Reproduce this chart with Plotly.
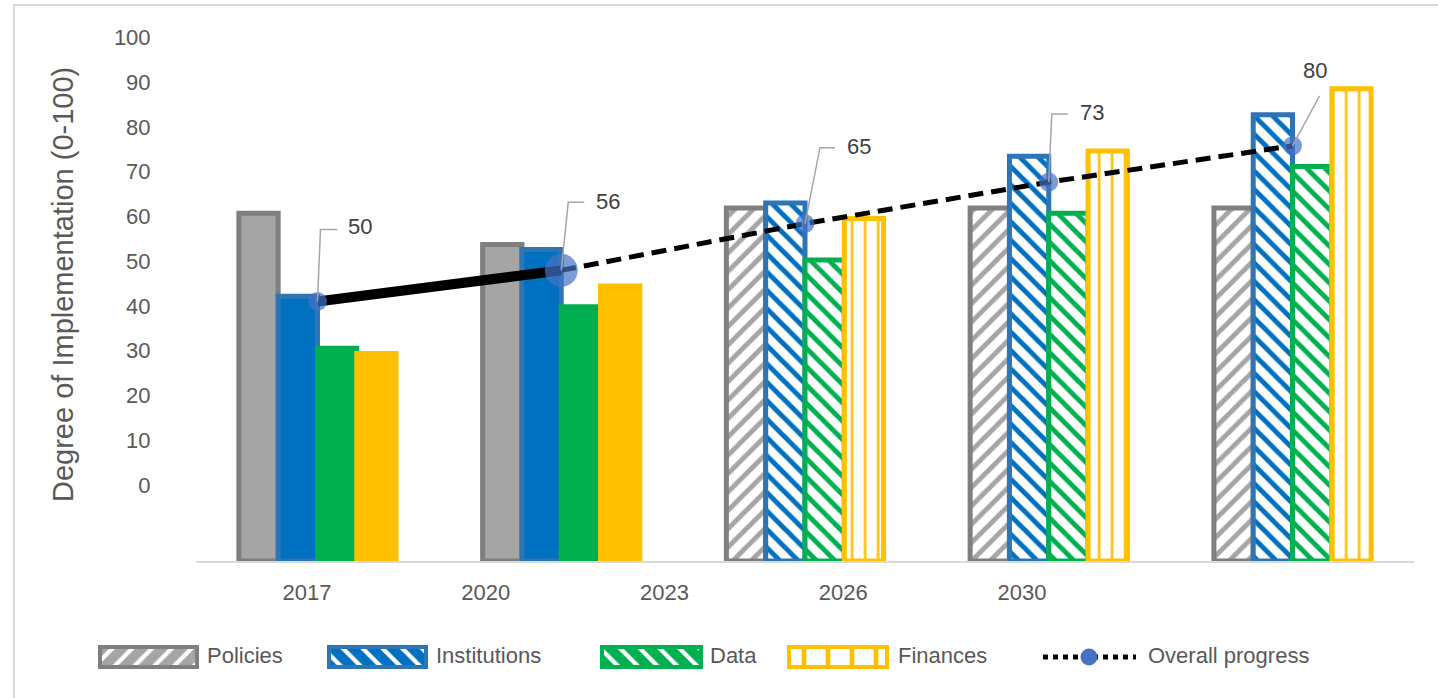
import plotly.graph_objects as go

# ---- data -------------------------------------------------------------
years = ["2017", "2020", "2023", "2026", "2030"]
policies = [67, 61, 68, 68, 68]
institutions = [51, 60, 69, 78, 86]
data_scores = [41, 49, 58, 67, 76]
finances = [40, 53, 66, 79, 91]
overall = [50, 56, 65, 73, 80]
scale_labels = [0, 10, 20, 30, 40, 50, 60, 70, 80, 90, 100]

# ---- page geometry helpers (pixel -> paper fraction) -----------------
W, H = 1438, 698


def fx(px):
    return px / W


def fy(py):
    return 1 - py / H


FONT = "Liberation Sans, Arial, sans-serif"
TEXT = "#595959"
LABEL = "#404040"
MARKER_BLUE = "#4472C4"

# first two years are solid, later years are hatched
projected = [False, False, True, True, True]

series = [
    dict(name="Policies", values=policies, fill="#A5A5A5", border="#7F7F7F", shape="/"),
    dict(name="Institutions", values=institutions, fill="#0070C0", border="#2E75B6", shape="\\"),
    dict(name="Data", values=data_scores, fill="#00B050", border="#00B050", shape="\\"),
    dict(name="Finances", values=finances, fill="#FFC000", border="#FFC000", shape="|"),
]

fig = go.Figure()

for s in series:
    shapes = [s["shape"] if p else "" for p in projected]
    fig.add_trace(go.Bar(
        x=years, y=s["values"], name=s["name"],
        marker=dict(
            color=s["fill"],
            line=dict(color=s["border"], width=5),
            pattern=dict(shape=shapes, fillmode="replace", bgcolor="white",
                         fgcolor=s["fill"], size=13,
                         solidity=0.2 if s["shape"] == "|" else 0.38),
        ),
        showlegend=False,
        xaxis="x", yaxis="y",
    ))

# overall progress: thick solid for the measured years, dashed afterwards
fig.add_trace(go.Scatter(
    x=years[:2], y=overall[:2], mode="lines",
    line=dict(color="black", width=10), showlegend=False, hoverinfo="skip",
))
fig.add_trace(go.Scatter(
    x=years[1:], y=overall[1:], mode="lines",
    line=dict(color="black", width=5, dash="15px,8px"), showlegend=False, hoverinfo="skip",
))
fig.add_trace(go.Scatter(
    x=years, y=overall, mode="markers", name="Overall progress",
    marker=dict(color=MARKER_BLUE, size=[19, 33, 19, 19, 19], line=dict(width=0)),
    showlegend=False,
))

# carrier trace for the overlaid label axes (years along the bottom, 0-100 scale)
fig.add_trace(go.Scatter(
    x=[0], y=[0], mode="markers", marker=dict(opacity=0),
    xaxis="x2", yaxis="y2", showlegend=False, hoverinfo="skip",
))

# value labels with elbow leader lines (pixel offsets from each point)
leaders = [
    dict(path=[(3, 72), (20, 72)], text=(43, 75)),
    dict(path=[(7, 68), (23, 68)], text=(47, 69)),
    dict(path=[(15, 76), (30, 76)], text=(54, 77)),
    dict(path=[(3, 68), (19, 68)], text=(43, 70)),
    dict(path=[(27, 50)], text=(22, 75)),
]

shapes = []
annotations = []
for i, (v, ld) in enumerate(zip(overall, leaders)):
    pts = "M 0,0 " + " ".join(f"L {dx},{dy}" for dx, dy in ld["path"])
    shapes.append(dict(
        type="path", xref="x", yref="y", xsizemode="pixel", ysizemode="pixel",
        xanchor=i, yanchor=v, path=pts,
        line=dict(color="#A6A6A6", width=1.5), layer="above",
    ))
    annotations.append(dict(
        x=i, y=v, xref="x", yref="y", text=str(v), showarrow=False,
        xshift=ld["text"][0], yshift=ld["text"][1],
        font=dict(family=FONT, size=22, color=LABEL),
        xanchor="center", yanchor="middle",
    ))

# y-axis title
annotations.append(dict(
    x=fx(63), y=fy(285), xref="paper", yref="paper",
    text="Degree of Implementation (0-100)", textangle=-90, showarrow=False,
    font=dict(family=FONT, size=29, color=TEXT), xanchor="center", yanchor="middle",
))

# ---- legend row ------------------------------------------------------
legend_left = [100, 329, 602, 789]
legend_width = [97, 97, 99, 98]
legend_text_x = [205, 434, 708, 896]
legend_swatch = [
    dict(bg="#A5A5A5", fg="white", shape="/", size=14, solidity=0.3),
    dict(bg="#0070C0", fg="white", shape="\\", size=14, solidity=0.3),
    dict(bg="#00B050", fg="white", shape="\\", size=14, solidity=0.3),
    dict(bg="white", fg="#FFC000", shape="|", size=24, solidity=0.2),
]

for s, left, wd, sw in zip(series, legend_left, legend_width, legend_swatch):
    fig.add_trace(go.Bar(
        y=[0], x=[wd], base=[left], orientation="h", width=0.66, offsetgroup="key",
        marker=dict(
            color=sw["bg"],
            line=dict(color=s["border"], width=4),
            pattern=dict(shape=sw["shape"], fillmode="overlay", fgcolor=sw["fg"],
                         fgopacity=1, size=sw["size"], solidity=sw["solidity"]),
        ),
        xaxis="x3", yaxis="y3", showlegend=False, hoverinfo="skip",
    ))
fig.add_trace(go.Scatter(
    x=[1043, 1136], y=[0, 0], mode="lines",
    line=dict(color="black", width=5, dash="5px,5px"),
    xaxis="x3", yaxis="y3", showlegend=False, hoverinfo="skip",
))
fig.add_trace(go.Scatter(
    x=[1089], y=[0], mode="markers", marker=dict(color=MARKER_BLUE, size=17),
    xaxis="x3", yaxis="y3", showlegend=False, hoverinfo="skip",
))
for s, tx in zip(series, legend_text_x):
    annotations.append(dict(
        x=fx(tx), y=fy(655), xref="paper", yref="paper", text=s["name"],
        showarrow=False, xanchor="left", yanchor="middle",
        font=dict(family=FONT, size=22, color=TEXT),
    ))
annotations.append(dict(
    x=fx(1146), y=fy(655), xref="paper", yref="paper", text="Overall progress",
    showarrow=False, xanchor="left", yanchor="middle",
    font=dict(family=FONT, size=22, color=TEXT),
))

# outer frame of the chart
shapes.append(dict(
    type="rect", xref="paper", yref="paper",
    x0=fx(14), x1=1.05, y0=-0.05, y1=fy(5),
    line=dict(color="#D9D9D9", width=2), fillcolor="rgba(0,0,0,0)", layer="below",
))

x_dom = [fx(195.6), fx(1414.4)]
y_dom = [fy(561), fy(31.6)]

fig.update_layout(
    width=W, height=H, autosize=False,
    margin=dict(l=0, r=0, t=0, b=0, pad=0, autoexpand=False),
    paper_bgcolor="white", plot_bgcolor="rgba(0,0,0,0)",
    font=dict(family=FONT, color=TEXT),
    barmode="group", bargap=0.355, bargroupgap=0,
    showlegend=False,
    xaxis=dict(domain=x_dom, type="category", range=[-0.5, 4.5],
               showticklabels=False, showgrid=False, zeroline=False,
               showline=True, linecolor="#D9D9D9", linewidth=2, ticks=""),
    yaxis=dict(domain=y_dom, range=[0, 102], showticklabels=False,
               showgrid=False, zeroline=False, showline=False, ticks=""),
    # year labels along the bottom
    xaxis2=dict(overlaying="x", anchor="y", side="bottom", range=[-0.623, 6.195],
                tickmode="array", tickvals=list(range(len(years))), ticktext=years,
                showgrid=False, zeroline=False, showline=False, ticks="",
                ticklabelstandoff=16, automargin=False,
                tickfont=dict(family=FONT, size=22, color=TEXT)),
    # 0-100 scale labels on the left
    yaxis2=dict(overlaying="y", anchor="x", side="left", range=[-16.97, 101.27],
                tickmode="array", tickvals=scale_labels,
                ticktext=[str(v) for v in scale_labels],
                showgrid=False, zeroline=False, showline=False, ticks="",
                ticklabelstandoff=44, automargin=False,
                tickfont=dict(family=FONT, size=22, color=TEXT)),
    xaxis3=dict(domain=[0, 1], anchor="y3", range=[0, W], visible=False, fixedrange=True),
    yaxis3=dict(domain=[fy(672), fy(642)], anchor="x3", range=[-0.5, 0.5],
                visible=False, fixedrange=True),
    shapes=shapes,
    annotations=annotations,
)

fig.write_html("out.html")
